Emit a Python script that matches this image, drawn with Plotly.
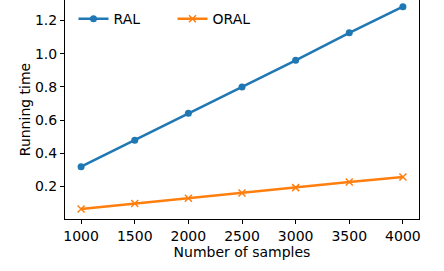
import plotly.graph_objects as go

samples = [1000, 1500, 2000, 2500, 3000, 3500, 4000]
ral = [0.319, 0.478, 0.641, 0.799, 0.960, 1.125, 1.283]
oral = [0.064, 0.097, 0.129, 0.161, 0.193, 0.227, 0.257]

blue = "#1f77b4"
orange = "#ff7f0e"
font = dict(family="DejaVu Sans", size=14, color="black")

fig = go.Figure()
fig.add_trace(go.Scatter(x=samples, y=ral, name="RAL", mode="lines+markers",
                         line=dict(color=blue, width=2.5),
                         marker=dict(symbol="circle", size=7, color=blue)))
fig.add_trace(go.Scatter(x=samples, y=oral, name="ORAL", mode="lines+markers",
                         line=dict(color=orange, width=2.5),
                         marker=dict(symbol="x-thin", size=7, color=orange,
                                     line=dict(color=orange, width=1.5))))

fig.update_layout(
    width=444, height=271,
    margin=dict(l=65, r=25, t=0, b=52, autoexpand=False),
    paper_bgcolor="white", plot_bgcolor="white",
    font=font,
    showlegend=True,
    legend=dict(orientation="h", x=0.024, y=0.986, xanchor="left", yanchor="top",
                bgcolor="rgba(0,0,0,0)", font=font,
                entrywidth=54, entrywidthmode="pixels",
                tracegroupgap=0),
    xaxis=dict(range=[850, 4150], tickvals=[1000, 1500, 2000, 2500, 3000, 3500, 4000],
               automargin=False,
               showgrid=False, zeroline=False, showline=True, linecolor="black",
               linewidth=1, ticks="outside", ticklen=4, tickcolor="black",
               title=dict(text="Number of samples", standoff=2, font=font)),
    yaxis=dict(range=[0.004, 1.323], tickvals=[0.2, 0.4, 0.6, 0.8, 1.0, 1.2],
               ticktext=["0.2", "0.4", "0.6", "0.8", "1.0", "1.2"],
               automargin=False,
               showgrid=False, zeroline=False, showline=True, linecolor="black",
               linewidth=1, mirror=True, ticks="outside", ticklen=4, tickcolor="black",
               title=dict(text="Running time", standoff=1, font=font)),
)
fig.write_html("out.html", config={"displayModeBar": False},
               post_script="document.body.style.margin='0';document.body.style.overflow='hidden';")
